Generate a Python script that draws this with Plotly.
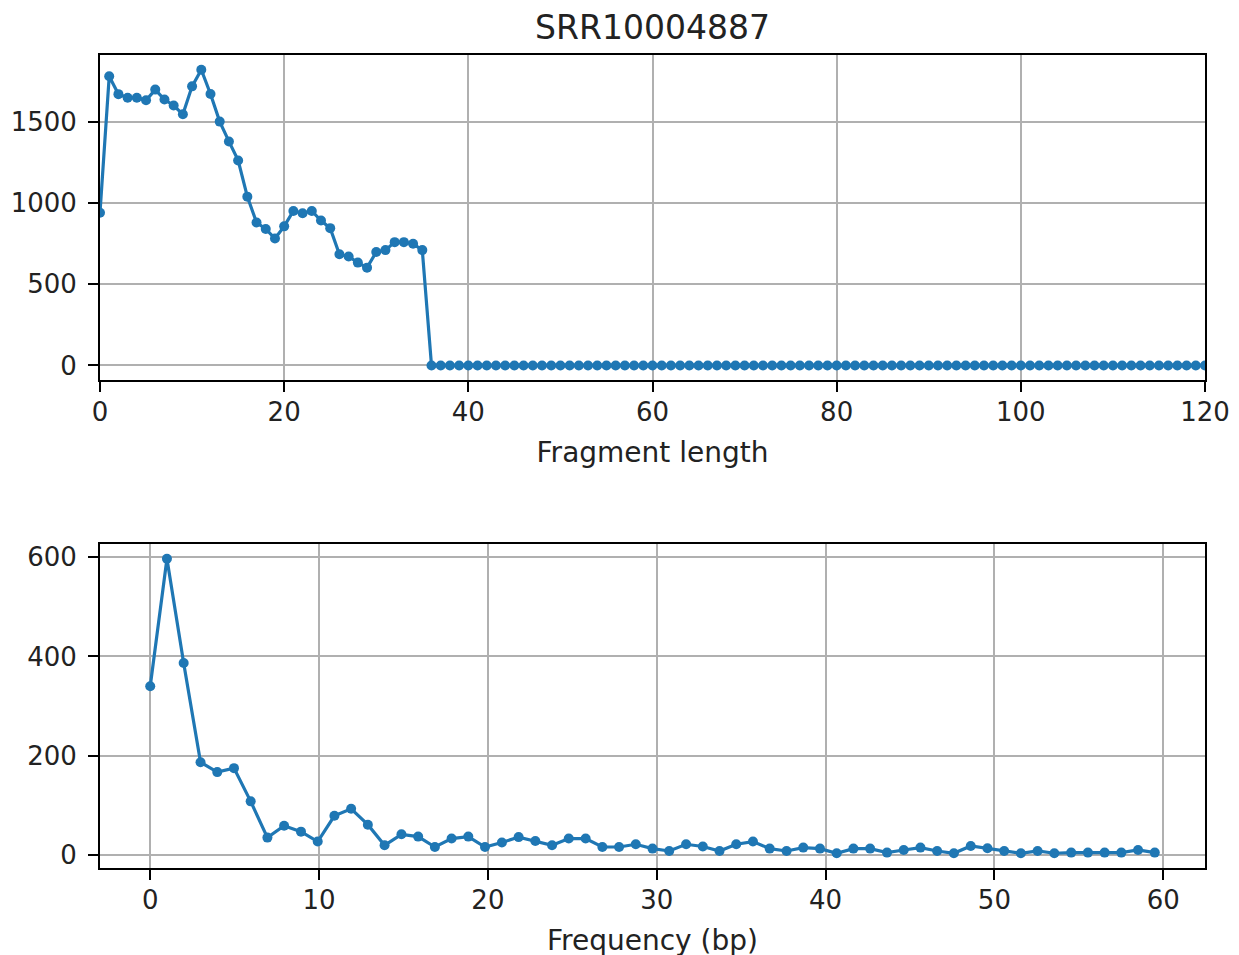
import plotly.graph_objects as go
from plotly.subplots import make_subplots

# Datos: distribución de longitudes de fragmento
frag_len = list(range(121))
frag_count = [940, 1780, 1670, 1648, 1648, 1632, 1698, 1637, 1600, 1546,
              1718, 1820, 1671, 1501, 1379, 1262, 1039, 880, 840, 781,
              856, 951, 937, 951, 892, 845, 684, 671, 633, 602,
              698, 710, 759, 759, 749, 710] + [0] * 85

# Datos: espectro de frecuencias
freq_bp = [0, 0.99, 1.98, 2.98, 3.97, 4.96, 5.95, 6.94, 7.93, 8.93,
           9.92, 10.91, 11.90, 12.89, 13.88, 14.88, 15.87, 16.86, 17.85, 18.84,
           19.83, 20.83, 21.82, 22.81, 23.80, 24.79, 25.79, 26.78, 27.77, 28.76,
           29.75, 30.74, 31.74, 32.73, 33.72, 34.71, 35.70, 36.69, 37.69, 38.68,
           39.67, 40.66, 41.65, 42.64, 43.64, 44.63, 45.62, 46.61, 47.60, 48.60,
           49.59, 50.58, 51.57, 52.56, 53.55, 54.55, 55.54, 56.53, 57.52, 58.51,
           59.50]
freq_amp = [340, 597, 387, 187, 167, 175, 108, 35, 59, 47,
            27, 79, 93, 61, 19.5, 41.6, 37, 16, 33, 37,
            16, 25, 36, 28, 19.5, 33, 33, 16, 16, 21.5,
            12.8, 8, 21.5, 17, 8, 21.5, 27, 12.8, 8, 14.8,
            12.8, 3.4, 12.8, 12.8, 4.7, 10, 14.8, 8, 3.4, 18,
            13.4, 8, 3.4, 8, 3.4, 4.7, 4.7, 4.7, 4.7, 10,
            4.7]

BLUE = '#1f77b4'
FONT = 'DejaVu Sans'

fig = make_subplots(rows=2, cols=1)

fig.add_trace(go.Scatter(x=frag_len, y=frag_count, mode='lines+markers',
                         line=dict(color=BLUE, width=3.2), marker=dict(color=BLUE, size=10),
                         showlegend=False), row=1, col=1)
fig.add_trace(go.Scatter(x=freq_bp, y=freq_amp, mode='lines+markers',
                         line=dict(color=BLUE, width=3.2), marker=dict(color=BLUE, size=10),
                         showlegend=False), row=2, col=1)

ax = dict(showline=True, linecolor='black', linewidth=2, mirror=True,
          showgrid=True, gridcolor='#b0b0b0', gridwidth=1.6, zeroline=False,
          ticks='outside', ticklen=10, tickwidth=2, tickcolor='black', automargin=False,
          tickfont=dict(family=FONT, size=26, color='#222'))

fig.update_xaxes(**ax, ticklabelstandoff=-2)
fig.update_yaxes(**ax, ticklabelstandoff=6)

fig.update_xaxes(range=[0, 120], tickvals=[0, 20, 40, 60, 80, 100, 120],
                 title=dict(text='Fragment length', font=dict(family=FONT, size=28, color='#222'), standoff=16),
                 domain=[0, 1], row=1, col=1)
fig.update_yaxes(range=[-91, 1911], tickvals=[0, 500, 1000, 1500],
                 domain=[0.600, 1], row=1, col=1)
fig.update_xaxes(range=[-2.975, 62.475], tickvals=[0, 10, 20, 30, 40, 50, 60],
                 title=dict(text='Frequency (bp)', font=dict(family=FONT, size=28, color='#222'), standoff=16),
                 domain=[0, 1], row=2, col=1)
fig.update_yaxes(range=[-26.3, 626.7], tickvals=[0, 200, 400, 600],
                 domain=[0, 0.3985], row=2, col=1)

fig.update_layout(
    width=1239, height=955,
    margin=dict(l=92, r=42, t=47, b=95),
    plot_bgcolor='white', paper_bgcolor='white',
    title=dict(text='SRR10004887', xref='paper', x=0.5, xanchor='center', y=0.98, yanchor='middle',
               font=dict(family=FONT, size=33, color='#222')),
)

fig.write_html("out.html")
